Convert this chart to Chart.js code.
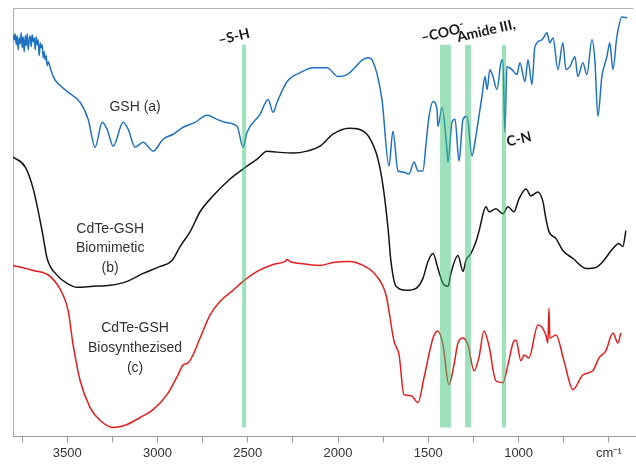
<!DOCTYPE html>
<html>
<head>
<meta charset="utf-8">
<script src="https://cdn.jsdelivr.net/npm/chart.js@4/dist/chart.umd.min.js"></script>
<style>
  body { margin: 0; background: #fff; }
</style>
</head>
<body>
<canvas id="ftirChart" width="636" height="465"></canvas>
<script>
// wavenumber (cm-1) and relative transmittance (arbitrary units)
var gshWn = [3800, 3793, 3788, 3782, 3777, 3771, 3766, 3760, 3755, 3749, 3744, 3738, 3732, 3727, 3721, 3716, 3710, 3705, 3699, 3694,
  3688, 3683, 3677, 3672, 3666, 3661, 3655, 3649, 3644, 3638, 3633, 3627, 3622, 3616, 3611, 3605, 3594, 3577, 3561, 3539,
  3500, 3428, 3384, 3345, 3306, 3279, 3245, 3190, 3162, 3124, 3079, 3024, 2969, 2913, 2858, 2792, 2725, 2670, 2626, 2559,
  2526, 2504, 2432, 2387, 2360, 2338, 2282, 2210, 2138, 2061, 2000, 1950, 1862, 1834, 1806, 1757, 1718, 1696, 1668, 1640,
  1607, 1579, 1557, 1530, 1513, 1496, 1474, 1452, 1447, 1424, 1397, 1391, 1369, 1352, 1330, 1308, 1286, 1258, 1242, 1225,
  1203, 1186, 1175, 1159, 1142, 1120, 1098, 1087, 1076, 1065, 1037, 1009, 993, 965, 948, 926, 910, 871, 843, 827,
  810, 782, 755, 738, 716, 688, 672, 644, 622, 594, 578, 561, 539, 511, 495, 478, 456, 428, 400];
var gshVal = [404, 399, 405, 394, 403, 389, 401, 395, 406, 391, 402, 387, 403, 393, 405, 389, 399, 403, 392, 404,
  397, 401, 389, 402, 394, 399, 383, 396, 391, 394, 381, 387, 379, 383, 373, 377, 371, 362, 357, 353,
  347, 336, 319, 291, 316, 309, 292, 316, 309, 291, 296, 287, 299, 304, 311, 316, 323, 319, 316, 312,
  291, 306, 324, 339, 326, 336, 357, 366, 371, 371, 362, 364, 379, 381, 377, 339, 272, 307, 267, 266,
  264, 276, 267, 267, 294, 322, 337, 329, 312, 331, 289, 276, 316, 319, 277, 319, 322, 282, 296, 316,
  342, 362, 349, 369, 362, 349, 376, 379, 306, 372, 369, 364, 376, 357, 379, 354, 392, 399, 406, 396,
  401, 369, 396, 369, 372, 382, 362, 376, 364, 399, 379, 322, 362, 382, 396, 369, 402, 422, 421];

var bioWn = [3800, 3732, 3688, 3638, 3611, 3555, 3500, 3445, 3356, 3262, 3168, 3079, 2985, 2919, 2875, 2819, 2764, 2692, 2598, 2526,
  2448, 2393, 2338, 2249, 2172, 2100, 2028, 1939, 1884, 1828, 1779, 1751, 1723, 1707, 1679, 1624, 1568, 1530, 1502, 1474,
  1447, 1419, 1391, 1375, 1336, 1308, 1292, 1264, 1236, 1220, 1181, 1164, 1126, 1087, 1059, 1026, 998, 959, 932, 893,
  865, 849, 832, 793, 755, 699, 627, 572, 533, 478, 445, 423, 406];
var bioVal = [281, 271, 249, 206, 179, 162, 154, 150, 151, 152, 156, 164, 171, 177, 191, 206, 226, 242, 259, 269,
  279, 287, 286, 285, 287, 292, 304, 310, 309, 301, 279, 252, 209, 176, 151, 147, 149, 159, 176, 184,
  169, 154, 151, 164, 182, 166, 177, 184, 196, 206, 231, 226, 229, 224, 231, 226, 239, 249, 242, 246,
  236, 219, 206, 199, 187, 179, 169, 170, 176, 189, 194, 191, 207];

var synWn = [3800, 3688, 3594, 3522, 3494, 3467, 3428, 3373, 3317, 3245, 3168, 3096, 3024, 2947, 2886, 2858, 2830, 2803, 2764, 2709,
  2653, 2581, 2526, 2448, 2360, 2293, 2282, 2266, 2210, 2100, 2028, 1939, 1862, 1790, 1734, 1690, 1662, 1635, 1596, 1557,
  1524, 1474, 1447, 1419, 1386, 1358, 1336, 1308, 1280, 1247, 1220, 1192, 1164, 1126, 1087, 1059, 1031, 1015, 987, 970,
  943, 893, 849, 838, 832, 827, 793, 749, 699, 644, 589, 555, 517, 478, 450, 434];
var synVal = [172, 167, 161, 142, 126, 92, 56, 29, 16, 9, 12, 19, 27, 42, 62, 72, 74, 82, 99, 122,
  136, 147, 156, 166, 173, 176, 178, 176, 174, 172, 175, 176, 172, 162, 142, 96, 82, 42, 41, 34,
  59, 99, 106, 92, 52, 72, 94, 99, 92, 66, 79, 106, 91, 56, 54, 72, 94, 97, 76, 82,
  79, 112, 102, 94, 129, 99, 102, 76, 47, 62, 66, 79, 86, 104, 94, 104];

// assignment bands (cm-1)
var bandFrom = [2531, 1435, 1297, 1092];
var bandTo = [2509, 1375, 1264, 1070];
var bandTop = 394;
var bandBottom = 9;

var xTicks = [3750, 3500, 3250, 3000, 2750, 2500, 2250, 2000, 1750, 1500, 1250, 1000, 750, 500];

// text labels: [text, wavenumber, value]
var curveLabels = [
  ['GSH (a)', 3124, 331],
  ['CdTe-GSH', 3262, 209],
  ['Biomimetic', 3262, 189],
  ['(b)', 3262, 169],
  ['CdTe-GSH', 3124, 109],
  ['Biosynthezised', 3124, 89],
  ['(c)', 3124, 69],
];
var bandLabels = [
  ['–S-H', 2576, 402],
  ['–COO⁻', 1419, 406],
  ['Amide III,', 1180, 408],
  ['C-N', 998, 299],
];

function toPoints(xs, ys) {
  return xs.map(function (x, i) {
    return { x: x, y: ys[i] };
  });
}

// frame (left + top line), green bands and text
var extras = {
  id: 'extras',
  beforeDatasetsDraw: function (chart) {
    var c = chart.ctx;
    var a = chart.chartArea;
    c.save();
    c.strokeStyle = '#b0b0b0';
    c.lineWidth = 1;
    c.beginPath();
    c.moveTo(a.left + 0.5, a.bottom);
    c.lineTo(a.left + 0.5, a.top + 0.5);
    c.lineTo(a.right - 3, a.top + 0.5);
    c.stroke();
    c.restore();
  },
  afterDatasetsDraw: function (chart) {
    var c = chart.ctx;
    var xs = chart.scales.x;
    var ys = chart.scales.y;
    c.save();
    c.fillStyle = 'rgba(60,195,120,0.5)';
    for (var i = 0; i < bandFrom.length; i++) {
      var x1 = xs.getPixelForValue(bandFrom[i]);
      var x2 = xs.getPixelForValue(bandTo[i]);
      var y1 = ys.getPixelForValue(bandTop);
      var y2 = ys.getPixelForValue(bandBottom);
      c.fillRect(x1, y1, x2 - x1, y2 - y1);
    }
    c.restore();
  },
  afterDraw: function (chart) {
    var c = chart.ctx;
    var xs = chart.scales.x;
    var ys = chart.scales.y;
    c.save();
    c.textAlign = 'center';
    c.textBaseline = 'middle';
    c.fillStyle = '#333';
    c.font = '14px "Liberation Sans", Arial, sans-serif';
    curveLabels.forEach(function (l) {
      c.fillText(l[0], xs.getPixelForValue(l[1]), ys.getPixelForValue(l[2]));
    });
    c.fillStyle = '#1a1a1a';
    c.font = 'bold 14px Lato, "Open Sans", sans-serif';
    bandLabels.forEach(function (l) {
      c.save();
      c.translate(xs.getPixelForValue(l[1]), ys.getPixelForValue(l[2]));
      c.rotate(-13 * Math.PI / 180);
      c.fillText(l[0], 0, 0);
      c.restore();
    });
    c.restore();
  },
};

var lineStyle = {
  pointRadius: 0,
  borderWidth: 1.5,
  fill: false,
  cubicInterpolationMode: 'monotone',
};

var ctx = document.getElementById('ftirChart').getContext('2d');
var ftirChart = new Chart(ctx, {
  type: 'line',
  data: {
    datasets: [
      Object.assign({ label: 'GSH (a)', data: toPoints(gshWn, gshVal), borderColor: '#1f72c2' }, lineStyle),
      Object.assign({ label: 'CdTe-GSH Biomimetic (b)', data: toPoints(bioWn, bioVal), borderColor: '#141414' }, lineStyle),
      Object.assign({ label: 'CdTe-GSH Biosynthezised (c)', data: toPoints(synWn, synVal), borderColor: '#e81c1c' }, lineStyle),
    ],
  },
  options: {
    responsive: false,
    animation: false,
    layout: {
      padding: { left: 13, top: 8, right: 0, bottom: 1 },
    },
    plugins: {
      legend: { display: false },
      tooltip: { enabled: false },
    },
    scales: {
      x: {
        type: 'linear',
        reverse: true,
        min: 350,
        max: 3800,
        afterBuildTicks: function (axis) {
          axis.ticks = xTicks.map(function (v) {
            return { value: v };
          });
        },
        ticks: {
          autoSkip: false,
          maxRotation: 0,
          padding: 3,
          color: '#333',
          font: { family: '"Liberation Sans", Arial, sans-serif', size: 13 },
          callback: function (v) {
            if (v === 500) return 'cm⁻¹';
            return v % 500 === 0 ? String(v) : '';
          },
        },
        grid: {
          drawOnChartArea: false,
          tickLength: 6,
          tickColor: '#999',
        },
        border: { color: '#999' },
      },
      y: {
        display: false,
        min: 0,
        max: 431,
      },
    },
  },
  plugins: [extras],
});
</script>
</body>
</html>
